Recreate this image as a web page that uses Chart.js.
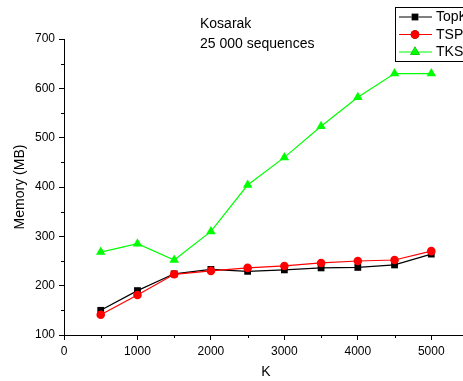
<!DOCTYPE html>
<html>
<head>
<meta charset="utf-8">
<script src="https://cdn.jsdelivr.net/npm/chart.js@4"></script>
<style>
    html, body { margin: 0; padding: 0; background: #fff; overflow: hidden; }
    #wrap { position: relative; width: 480px; height: 381px; }
</style>
</head>
<body>
<div id="wrap"><canvas id="memoryChart"></canvas></div>
<script>
// K values on the x axis
const kValues = [500, 1000, 1500, 2000, 2500, 3000, 3500, 4000, 4500, 5000];

// memory usage in MB
const topkMemory = [150, 190, 224, 233, 229, 232, 236, 237, 242, 264];
const tspMemory = [141, 181, 223, 230, 236, 240, 246, 250, 252, 270];
const tksMemory = [268, 285, 252, 310, 404, 460, 523, 582, 630, 630];

const xTickValues = [0, 1000, 2000, 3000, 4000, 5000];
const yTickValues = [100, 200, 300, 400, 500, 600, 700];

const seriesNames = ['TopK', 'TSP', 'TKS'];
const titleLines = ['Kosarak', '25 000 sequences'];

const FONT = '"Liberation Sans", Arial, sans-serif';

function toPoints(values) {
    return kValues.map((k, i) => ({ x: k, y: values[i] }));
}

// minor ticks, text block and framed legend
const decorPlugin = {
    id: 'decor',
    afterDraw(chart) {
        const ctx = chart.ctx;
        const xs = chart.scales.x;
        const ys = chart.scales.y;
        const area = chart.chartArea;

        ctx.save();
        ctx.strokeStyle = '#000';
        ctx.lineWidth = 1;
        ctx.beginPath();
        for (let v = 500; v <= 5500; v += 1000) {
            const px = Math.round(xs.getPixelForValue(v)) + 0.5;
            ctx.moveTo(px, area.bottom);
            ctx.lineTo(px, area.bottom + 3);
        }
        for (let v = 150; v <= 650; v += 100) {
            const py = Math.round(ys.getPixelForValue(v)) + 0.5;
            ctx.moveTo(area.left, py);
            ctx.lineTo(area.left - 3, py);
        }
        ctx.stroke();

        ctx.fillStyle = '#000';
        ctx.font = '14px ' + FONT;
        ctx.textAlign = 'left';
        ctx.textBaseline = 'middle';
        ctx.fillText(titleLines[0], 200, 24);
        ctx.fillText(titleLines[1], 200, 44);

        // legend box
        const boxX = 395.5, boxY = 7.5, boxW = 90, boxH = 54;
        ctx.fillStyle = '#fff';
        ctx.fillRect(boxX, boxY, boxW, boxH);
        ctx.strokeStyle = '#000';
        ctx.lineWidth = 1;
        ctx.strokeRect(boxX, boxY, boxW, boxH);

        chart.data.datasets.forEach((ds, i) => {
            const rowY = 17 + i * 17.5;
            ctx.strokeStyle = ds.borderColor;
            ctx.lineWidth = 1.2;
            ctx.beginPath();
            ctx.moveTo(399, rowY);
            ctx.lineTo(432, rowY);
            ctx.stroke();
            Chart.helpers.drawPoint(ctx, {
                pointStyle: ds.pointStyle,
                radius: ds.pointRadius,
                rotation: 0,
                borderWidth: 0
            }, 415, rowY);
            ctx.fillStyle = ds.pointBackgroundColor;
            ctx.fill();
            ctx.fillStyle = '#000';
            ctx.font = '14px ' + FONT;
            ctx.textAlign = 'left';
            ctx.textBaseline = 'middle';
            ctx.fillText(ds.label, 436, rowY + 0.5);
        });
        ctx.restore();
    }
};

const chart = new Chart(document.getElementById('memoryChart'), {
    type: 'line',
    data: {
        datasets: [
            {
                label: seriesNames[0],
                data: toPoints(topkMemory),
                borderColor: '#000000',
                backgroundColor: '#000000',
                pointBackgroundColor: '#000000',
                pointStyle: 'rect',
                pointRadius: 4.8,
                borderWidth: 1.2,
                pointBorderWidth: 0,
                order: 2
            },
            {
                label: seriesNames[1],
                data: toPoints(tspMemory),
                borderColor: '#ff0000',
                backgroundColor: '#ff0000',
                pointBackgroundColor: '#ff0000',
                pointStyle: 'circle',
                pointRadius: 4.3,
                borderWidth: 1.2,
                pointBorderWidth: 0,
                order: 1
            },
            {
                label: seriesNames[2],
                data: toPoints(tksMemory),
                borderColor: '#00ff00',
                backgroundColor: '#00ff00',
                pointBackgroundColor: '#00ff00',
                pointStyle: 'triangle',
                pointRadius: 5.5,
                borderWidth: 1.2,
                pointBorderWidth: 0,
                order: 0
            }
        ]
    },
    options: {
        responsive: true,
        maintainAspectRatio: false,
        animation: false,
        layout: {
            padding: { left: 0, right: 12, top: 39, bottom: 0 }
        },
        plugins: {
            legend: { display: false },
            tooltip: { enabled: false }
        },
        scales: {
            x: {
                type: 'linear',
                min: 0,
                max: 5500,
                afterBuildTicks(scale) {
                    scale.ticks = xTickValues.map(v => ({ value: v }));
                },
                afterFit(scale) { scale.height = 46; },
                border: { display: true, color: '#000', width: 1 },
                grid: {
                    drawOnChartArea: false,
                    drawTicks: true,
                    tickLength: 5,
                    tickColor: '#000',
                    tickWidth: 1
                },
                ticks: {
                    autoSkip: false,
                    maxRotation: 0,
                    padding: 4,
                    color: '#000',
                    font: { family: FONT, size: 12 },
                    callback: value => String(value)
                },
                title: {
                    display: true,
                    text: 'K',
                    color: '#000',
                    padding: { top: 0, bottom: 0 },
                    font: { family: FONT, size: 14 }
                }
            },
            y: {
                min: 100,
                max: 700,
                afterBuildTicks(scale) {
                    scale.ticks = yTickValues.map(v => ({ value: v }));
                },
                afterFit(scale) { scale.width = 64; },
                border: { display: true, color: '#000', width: 1 },
                grid: {
                    drawOnChartArea: false,
                    drawTicks: true,
                    tickLength: 5,
                    tickColor: '#000',
                    tickWidth: 1
                },
                ticks: {
                    padding: 4,
                    color: '#000',
                    font: { family: FONT, size: 12 },
                    callback: value => String(value)
                },
                title: {
                    display: true,
                    text: 'Memory (MB)',
                    color: '#000',
                    padding: { top: 12, bottom: 12 },
                    font: { family: FONT, size: 14 }
                }
            }
        }
    },
    plugins: [decorPlugin]
});
</script>
</body>
</html>
